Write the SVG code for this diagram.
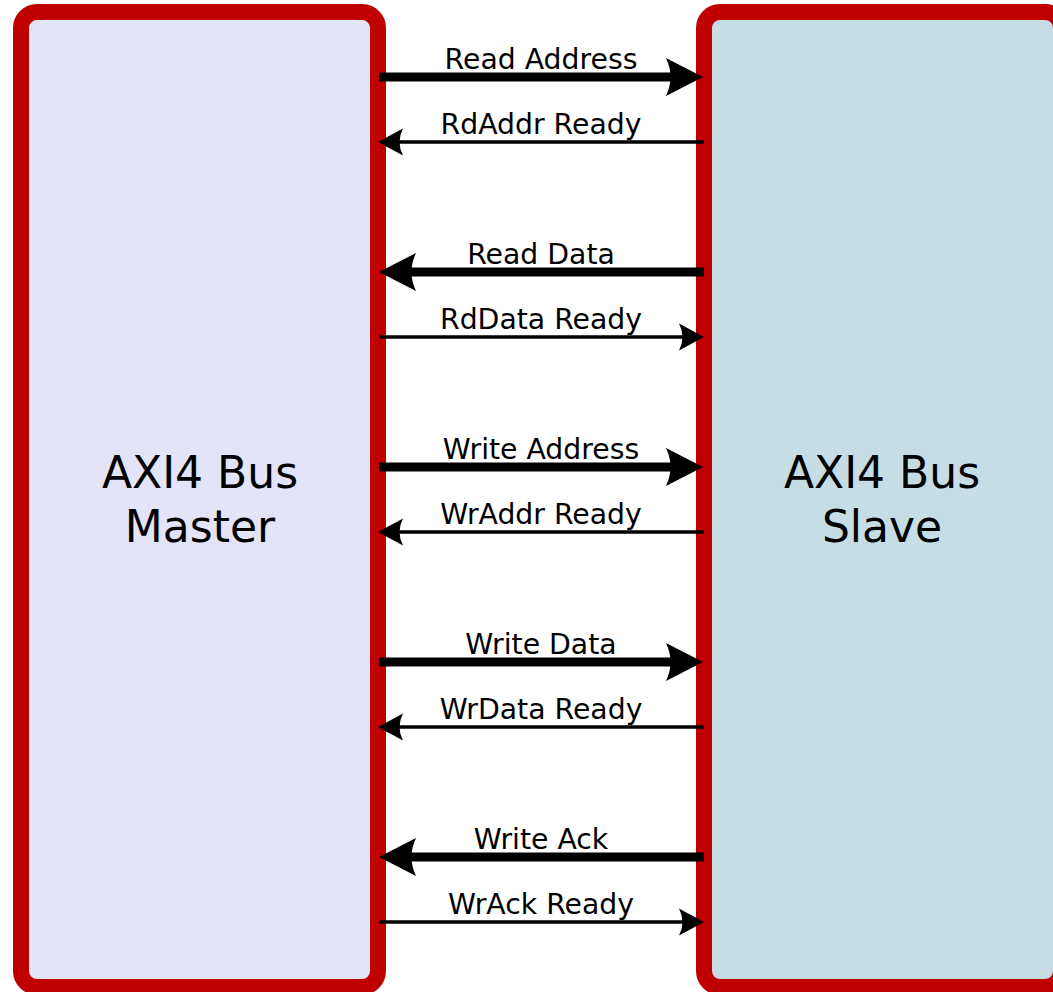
<svg xmlns="http://www.w3.org/2000/svg" width="1053" height="992" viewBox="0 0 1053 992">
<style>
.box{stroke:#c00000;stroke-width:16}
.big{font-family:"DejaVu Sans",sans-serif;font-size:44px;fill:#000;text-anchor:middle}
.lbl{font-family:"DejaVu Sans",sans-serif;font-size:28.3px;fill:#000;text-anchor:middle}
.thick{stroke:#000;stroke-width:9;fill:none;marker-end:url(#hk)}
.thin{stroke:#000;stroke-width:3.5;fill:none;marker-end:url(#hn)}
</style>
<defs>
<marker id="hk" markerUnits="userSpaceOnUse" orient="auto" refX="-20" refY="0" markerWidth="60" markerHeight="60" overflow="visible">
<path d="M0,0 L-37,-19 Q-28,0 -37,19 Z" fill="#000"/>
</marker>
<marker id="hn" markerUnits="userSpaceOnUse" orient="auto" refX="-12" refY="0" markerWidth="40" markerHeight="40" overflow="visible">
<path d="M0,0 L-25,-13.5 Q-18,0 -25,13.5 Z" fill="#000"/>
</marker>
</defs>
<rect width="1053" height="992" fill="#fff"/>
<g id="master">
<rect class="box" x="21" y="12" width="357" height="975" rx="16" fill="#e4e4f8"/>
<text class="big" x="200" y="488">AXI4 Bus</text>
<text class="big" x="200" y="542">Master</text>
</g>
<g id="slave">
<rect class="box" x="704" y="12" width="357" height="975" rx="16" fill="#c6dde5"/>
<text class="big" x="882" y="488">AXI4 Bus</text>
<text class="big" x="882" y="542">Slave</text>
</g>
<g id="connectors">
<path class="thick" d="M379,77 H683"/>
<path class="thin" d="M704,142 H390"/>
<path class="thick" d="M704,272 H399"/>
<path class="thin" d="M379,337 H692"/>
<path class="thick" d="M379,467 H683"/>
<path class="thin" d="M704,532 H390"/>
<path class="thick" d="M379,662 H683"/>
<path class="thin" d="M704,727 H390"/>
<path class="thick" d="M704,857 H399"/>
<path class="thin" d="M379,922 H692"/>
<text class="lbl" x="541" y="68.5">Read Address</text>
<text class="lbl" x="541" y="133.5">RdAddr Ready</text>
<text class="lbl" x="541" y="263.5">Read Data</text>
<text class="lbl" x="541" y="328.5">RdData Ready</text>
<text class="lbl" x="541" y="458.5">Write Address</text>
<text class="lbl" x="541" y="523.5">WrAddr Ready</text>
<text class="lbl" x="541" y="653.5">Write Data</text>
<text class="lbl" x="541" y="718.5">WrData Ready</text>
<text class="lbl" x="541" y="848.5">Write Ack</text>
<text class="lbl" x="541" y="913.5">WrAck Ready</text>
</g>
</svg>
